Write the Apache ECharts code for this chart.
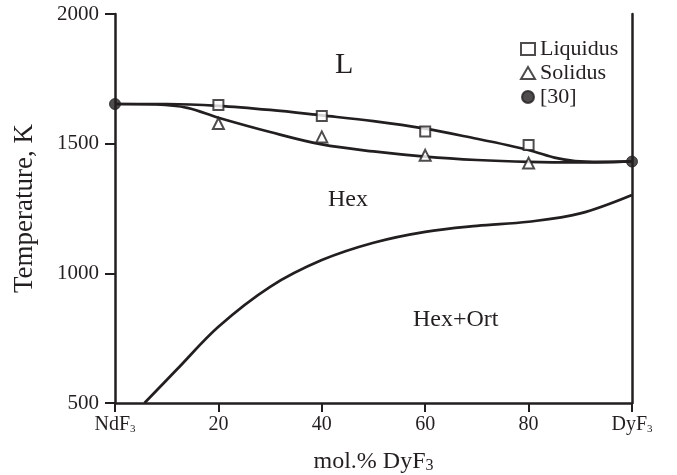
<!DOCTYPE html>
<html><head><meta charset="utf-8">
<script src="https://cdn.jsdelivr.net/npm/echarts@6/dist/echarts.min.js"></script>
<style>html,body{margin:0;padding:0;background:#fff}#c{width:677px;height:475px}</style>
</head><body><div id="c"></div>
<script>
// mol.% DyF3, temperature K
const liquidusPts = [[20,1649],[40,1607],[60,1547],[80,1495]];
const solidusPts = [[20,1578],[40,1526],[60,1455],[80,1425]];
const ref30Pts = [[0,1653],[100,1431]];
const liquidusCurve = [[0,1653],[10,1653],[20,1646],[30,1630],[40,1609],[50,1587],[60,1558],[70,1519],[76,1494],[81,1470],[85,1446],[89,1433],[94,1430],[100,1432]];
const solidusCurve = [[0,1653],[8,1651],[14,1638],[20,1600],[30,1545],[40,1497],[50,1470],[60,1450],[70,1437],[80,1430],[90,1428],[100,1432]];
const hexOrtCurve = [[5.7,500],[12,630],[20,794],[30,948],[40,1051],[50,1118],[60,1160],[70,1183],[80,1199],[90,1231],[100,1302]];
const xTickLabels = {0:'{m|NdF}{s|3}',20:'20',40:'40',60:'60',80:'80',100:'{m|DyF}{s|3}'};

const INK = '#231f20';
const FONT = '"Liberation Serif","DejaVu Serif",serif';
const chart = echarts.init(document.getElementById('c'), null, {renderer:'canvas'});
const lineS = (data) => ({type:'line', data, smooth:0.35, showSymbol:false, symbol:'none', silent:true,
  lineStyle:{color:INK,width:2.7}, z:2});
chart.setOption({
  animation:false,
  backgroundColor:'#fff',
  textStyle:{fontFamily:FONT,color:INK},
  grid:{left:115,right:45,top:14,bottom:72,containLabel:false,outerBoundsMode:'none'},
  legend:{orient:'vertical',left:515,top:33,itemGap:2,itemWidth:14,itemHeight:12,
    data:['Liquidus','Solidus','[30]'],
    textStyle:{fontFamily:FONT,fontSize:22,color:INK}},
  xAxis:{type:'value',min:0,max:100,interval:20,
    axisLine:{lineStyle:{color:INK,width:2.5}},
    axisTick:{length:9,lineStyle:{color:INK,width:2}},
    splitLine:{show:false},
    axisLabel:{margin:12,color:INK,fontFamily:FONT,fontSize:20,
      formatter:v=>xTickLabels[v]||'',
      rich:{m:{fontFamily:FONT,fontSize:20,color:INK},s:{fontFamily:FONT,fontSize:11,color:INK,verticalAlign:'bottom',padding:[8,0,0,0]}}},
    name:'{m|mol.% DyF}{s|3}',nameLocation:'middle',nameGap:46,
    nameTextStyle:{rich:{m:{fontFamily:FONT,fontSize:24,color:INK},s:{fontFamily:FONT,fontSize:16,color:INK,padding:[9,0,0,0]}}}},
  yAxis:[{type:'value',min:500,max:2000,interval:500,
    axisLine:{show:true,lineStyle:{color:INK,width:2.5}},
    axisTick:{show:true,length:10,lineStyle:{color:INK,width:2}},
    splitLine:{show:false},
    axisLabel:{margin:16,color:INK,fontFamily:FONT,fontSize:21,formatter:v=>String(v)},
    name:'Temperature, K',nameLocation:'middle',nameGap:77,nameRotate:90,
    nameTextStyle:{fontFamily:FONT,fontSize:27,color:INK}},
   {type:'value',min:500,max:2000,interval:500,position:'right',
    axisLine:{show:true,lineStyle:{color:INK,width:2.5}},
    axisTick:{show:false},axisLabel:{show:false},splitLine:{show:false}}],
  graphic:[
    {type:'text',left:335,top:50,style:{text:'L',font:'30px '+FONT,fill:INK}},
    {type:'text',left:328,top:188,style:{text:'Hex',font:'24px '+FONT,fill:INK}},
    {type:'text',left:413,top:308,style:{text:'Hex+Ort',font:'24px '+FONT,fill:INK}}
  ],
  series:[
    lineS(liquidusCurve), lineS(solidusCurve), lineS(hexOrtCurve),
    {name:'Liquidus',type:'scatter',data:liquidusPts,symbol:'rect',symbolSize:10,z:5,
      itemStyle:{color:'#fff',borderColor:INK,borderWidth:2}},
    {name:'Solidus',type:'scatter',data:solidusPts,symbol:'triangle',symbolSize:11,z:5,
      itemStyle:{color:'#fff',borderColor:INK,borderWidth:2}},
    {name:'[30]',type:'scatter',data:ref30Pts,symbol:'circle',symbolSize:11,z:5,
      itemStyle:{color:INK,borderColor:INK,borderWidth:1}}
  ]
});
</script></body></html>
